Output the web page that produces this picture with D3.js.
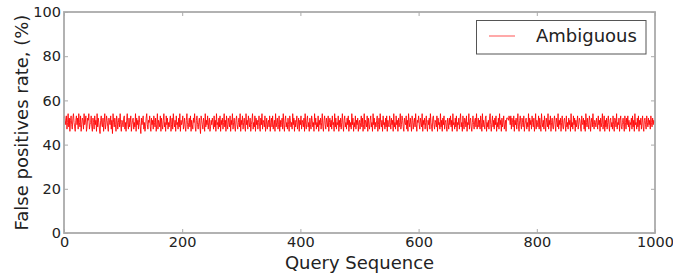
<!DOCTYPE html>
<html>
<head>
<meta charset="utf-8">
<script src="https://cdn.jsdelivr.net/npm/d3@7"></script>
<style>
  body { margin: 0; background: #fff; }
  svg text { font-family: "DejaVu Sans", sans-serif; fill: #222; }
</style>
</head>
<body>
<div id="chart"></div>
<script>
// false positive rate per query (%)
var fpRate = [
  52,53,51,49,53,47,50,54,48,52,46,51,53,49,47,52,54,50,48,46,51,53,49,52,47,54,50,48,53,46,49,52,51,47,54,49,50,53,46,48,52,51,54,47,49,50,53,48,46,52,
  50,47,53,49,51,46,54,48,52,50,47,45,51,53,49,48,52,46,50,54,47,49,53,51,48,46,52,50,49,53,47,51,45,54,50,48,52,49,46,53,51,47,50,52,48,54,49,46,51,50,
  48,52,53,47,50,46,51,54,49,47,52,48,50,53,46,49,51,52,47,50,48,54,46,52,49,51,47,53,50,48,45,52,49,51,53,47,50,46,48,52,54,49,47,51,50,53,48,46,52,49,
  51,47,53,50,48,52,46,49,54,47,51,50,48,53,46,52,49,47,51,54,48,50,46,53,49,52,47,50,48,51,53,46,49,52,47,54,50,48,51,46,53,49,50,47,52,48,54,46,51,49,
  50,53,47,49,52,48,46,51,54,49,47,50,52,48,53,46,51,49,47,52,50,54,48,46,51,53,49,47,50,52,48,45,53,51,49,47,52,50,46,54,48,51,49,53,47,50,52,46,48,51,
  49,52,50,47,53,48,51,46,54,49,50,47,52,48,53,46,51,49,52,47,50,54,48,51,46,53,49,47,52,50,48,53,46,51,49,54,47,50,52,48,46,51,53,49,47,50,52,48,54,46,
  51,49,53,47,50,52,48,46,54,49,51,47,53,50,48,52,46,49,51,54,47,50,48,53,46,52,49,51,47,50,53,48,46,52,49,54,47,51,50,48,53,46,49,52,47,50,51,48,53,46,
  50,52,48,53,47,49,51,46,54,48,50,52,47,49,53,46,51,48,50,52,47,54,49,46,51,53,48,50,47,52,49,46,53,51,48,50,47,54,49,52,46,51,48,50,53,47,49,52,46,51,
  49,53,47,51,50,48,52,46,54,49,47,51,53,48,50,46,52,49,47,53,51,48,50,46,54,49,52,47,50,48,53,46,51,49,52,47,50,54,48,46,51,53,49,47,52,50,48,53,46,50,
  52,48,51,47,53,49,50,46,54,48,52,47,50,49,53,46,51,48,52,47,50,54,49,46,51,53,48,50,47,52,49,53,46,51,48,50,47,54,49,52,46,50,48,53,47,51,49,52,46,50,
  51,47,50,53,48,52,46,49,54,47,51,50,48,53,46,52,49,47,51,53,48,50,46,54,49,52,47,50,48,51,53,46,49,52,47,54,50,48,51,46,53,49,50,47,52,48,53,46,51,49,
  48,53,50,47,52,49,51,46,54,48,50,47,53,49,51,46,52,48,50,54,47,49,53,51,48,46,52,50,49,53,47,51,46,54,50,48,52,49,46,53,51,47,50,52,48,54,49,46,51,50,
  53,49,47,52,50,48,54,46,51,49,52,47,50,53,48,46,51,49,52,47,54,50,48,46,52,53,49,47,51,50,48,53,46,52,49,50,47,54,48,51,46,52,49,53,47,50,51,48,46,52,
  50,47,52,49,53,48,51,46,54,49,50,47,52,48,53,46,50,49,52,47,51,54,48,50,46,53,49,47,52,51,48,53,46,50,49,54,47,51,52,48,46,50,53,49,47,51,52,48,54,47,
  49,52,48,51,47,53,50,46,54,48,51,49,47,52,53,46,50,48,51,47,52,54,49,46,50,53,48,51,47,52,49,53,46,50,48,52,47,54,49,51,46,52,48,50,53,47,49,51,46,52,
  52,52,51,53,52,49,53,47,52,50,48,53,46,51,49,52,47,50,54,48,46,51,53,49,47,52,50,48,53,46,49,51,52,47,50,48,54,46,52,49,51,47,53,50,48,52,46,49,54,47,
  51,50,48,53,47,52,49,46,54,50,48,51,47,53,49,46,52,50,48,54,47,51,49,53,46,50,52,48,47,51,53,49,46,52,50,48,54,47,51,49,52,46,50,53,48,47,51,52,49,46,
  53,48,50,47,52,49,51,46,54,48,50,47,53,49,52,46,51,48,50,53,47,49,52,51,48,46,53,50,49,52,47,51,46,54,50,48,52,49,47,53,51,46,50,52,48,54,49,47,51,50,
  48,52,50,47,53,49,51,46,52,48,50,54,47,49,53,46,51,48,52,47,50,53,49,46,51,52,48,50,47,53,49,46,52,51,48,54,47,50,49,52,46,51,53,48,47,50,52,49,46,53,
  50,47,52,49,53,48,51,46,50,49,52,47,53,48,51,46,54,49,50,47,52,48,53,46,51,49,52,47,50,53,48,46,51,52,49,47,53,50,48,52,49,51,47,53,50,48,52,49,51,50
];
var seriesName = "Ambiguous";
var xTicks = [0, 200, 400, 600, 800, 1000];
var yTicks = [0, 20, 40, 60, 80, 100];
var xLabel = "Query Sequence";
var yLabel = "False positives rate, (%)";

var margin = { top: 12, left: 64, right: 18, bottom: 40 },
  width = 673 - margin.left - margin.right,
  height = 273 - margin.top - margin.bottom;

var svg = d3.select("#chart").append("svg")
            .attr("width", 673)
            .attr("height", 273);

var g = svg.append("g")
           .attr("transform", "translate(" + margin.left + "," + margin.top + ")");

var x = d3.scaleLinear().domain([0, 1000]).range([0, width]);
var y = d3.scaleLinear().domain([0, 100]).range([height, 0]);

var spine = "#aaa";

// inward ticks on all four sides, matplotlib classic style
g.append("g")
  .attr("transform", "translate(0," + height + ")")
  .call(d3.axisBottom(x).tickValues(xTicks).tickFormat(d3.format("d"))
    .tickSizeInner(-4).tickSizeOuter(0).tickPadding(4));
g.append("g")
  .call(d3.axisLeft(y).tickValues(yTicks).tickFormat(d3.format("d"))
    .tickSizeInner(-4).tickSizeOuter(0).tickPadding(3));
g.append("g")
  .call(d3.axisTop(x).tickValues(xTicks).tickSizeInner(-4).tickSizeOuter(0).tickFormat(""));
g.append("g")
  .attr("transform", "translate(" + width + ",0)")
  .call(d3.axisRight(y).tickValues(yTicks).tickSizeInner(-4).tickSizeOuter(0).tickFormat(""));

g.selectAll(".domain").remove();
g.selectAll(".tick line").attr("stroke", spine).attr("stroke-width", 1);
g.selectAll(".tick text").style("font-size", "14.5px").attr("fill", "#222");

var line = d3.line()
  .x((d, i) => x(i))
  .y(d => y(d));

g.append("path")
  .datum(fpRate)
  .attr("fill", "none")
  .attr("stroke", "#ff0000")
  .attr("stroke-opacity", 0.85)
  .attr("stroke-width", 1)
  .attr("d", line);

g.append("rect")
  .attr("width", width)
  .attr("height", height)
  .attr("fill", "none")
  .attr("stroke", spine)
  .attr("stroke-width", 1.8);

// legend
var legend = g.append("g")
  .attr("transform", "translate(" + (width - 178.5) + ",8.5)");
legend.append("rect")
  .attr("width", 169.5)
  .attr("height", 33.5)
  .attr("fill", "#fff")
  .attr("stroke", "#555")
  .attr("stroke-width", 1);
legend.append("line")
  .attr("x1", 12.5).attr("x2", 38.5)
  .attr("y1", 15.5).attr("y2", 15.5)
  .attr("stroke", "#ff0000")
  .attr("stroke-opacity", 0.45)
  .attr("stroke-width", 1.5);
legend.append("text")
  .attr("x", 59.5)
  .attr("y", 21.5)
  .style("font-size", "18px")
  .text(seriesName);

svg.append("text")
  .attr("x", margin.left + width / 2)
  .attr("y", 269)
  .attr("text-anchor", "middle")
  .style("font-size", "18px")
  .text(xLabel);

svg.append("text")
  .attr("transform", "translate(28," + (margin.top + height / 2) + ") rotate(-90)")
  .attr("text-anchor", "middle")
  .style("font-size", "18px")
  .text(yLabel);
</script>
</body>
</html>
